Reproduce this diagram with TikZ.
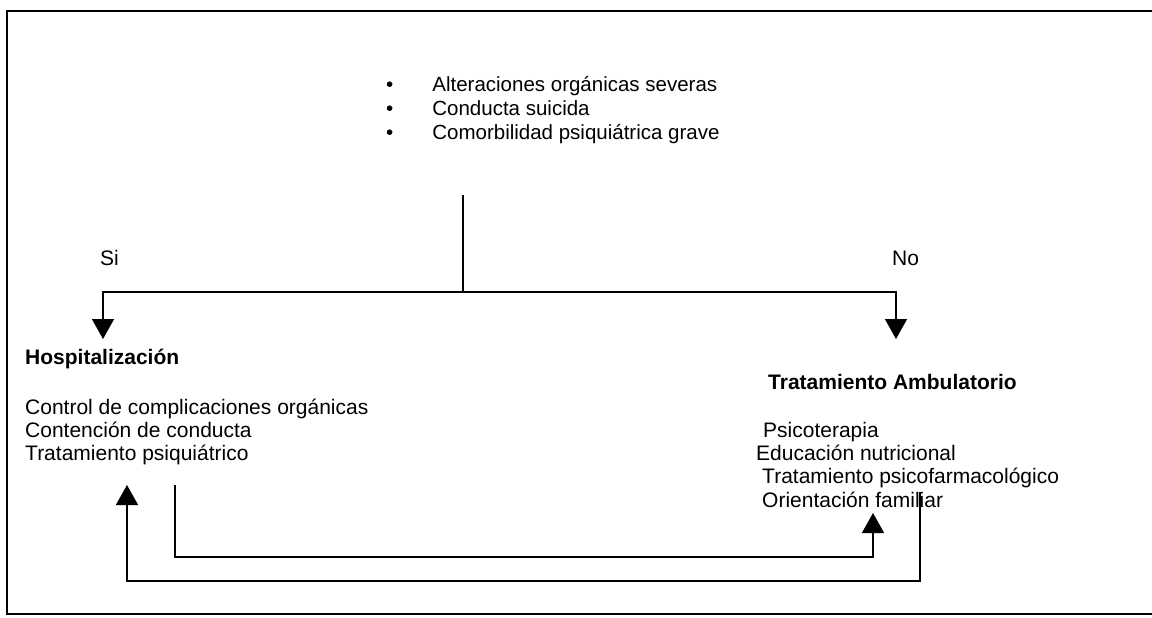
\documentclass[tikz,border=0pt]{standalone}
\usepackage{fontspec}
\setmainfont{Liberation Sans}
\usetikzlibrary{arrows.meta}
\begin{document}
\begin{tikzpicture}[x=1pt,y=-1pt,
  txt/.style={inner sep=0pt,anchor=base west,font=\fontsize{21}{24}\selectfont},
  head/.style={txt,font=\fontsize{21}{24}\selectfont\bfseries},
  conn/.style={line width=1.5pt},
  arr/.style={conn,-{Triangle[width=22pt,length=20pt]}}]
\useasboundingbox (0,0) rectangle (1152,618);
% outer frame (open on the right)
\draw[line width=2pt] (1152,11) -- (7,11) -- (7,614) -- (1152,614);

% criteria list
\node[txt,anchor=west,font=\fontsize{20.5}{24}\selectfont] (crit) at (386,111) {\begin{tabular}{@{}l@{\hspace{39pt}}l@{}}
  • & Alteraciones orgánicas severas\\
  • & Conducta suicida\\
  • & Comorbilidad psiquiátrica grave
\end{tabular}};

% branch labels
\node[txt] (si) at (100,265) {Si};
\node[txt] (no) at (892,265) {No};

% hospital branch
\node[head] (hosp) at (25,364) {Hospitalización};
\node[txt] (hosp1) at (25,414) {Control de complicaciones orgánicas};
\node[txt] (hosp2) at (25,437) {Contención de conducta};
\node[txt] (hosp3) at (25,460) {Tratamiento psiquiátrico};

% outpatient branch
\node[head] (amb) at (768,389) {Tratamiento Ambulatorio};
\node[txt] (amb1) at (763,437) {Psicoterapia};
\node[txt] (amb2) at (756,460) {Educación nutricional};
\node[txt] (amb3) at (762,483) {Tratamiento psicofarmacológico};
\node[txt] (amb4) at (762,507) {Orientación familiar};

% decision fork
\coordinate (stem) at (463,195);
\coordinate (fork) at (463,292);
\coordinate (hospIn) at (103,339);
\coordinate (ambIn) at (896,339);
\draw[conn] (stem) -- (fork);
\draw[arr] (fork) -| (hospIn);
\draw[arr] (fork) -| (ambIn);

% transfers between the two settings
\coordinate (hospOut) at (175,485);
\coordinate (low1) at (175,557);
\coordinate (ambBack) at (873,513);
\draw[arr] (hospOut) -- (low1) -| (ambBack);

\coordinate (ambOut) at (920,492);
\coordinate (low2) at (920,581);
\coordinate (hospBack) at (127,485);
\draw[arr] (ambOut) -- (low2) -| (hospBack);
\end{tikzpicture}
\end{document}
